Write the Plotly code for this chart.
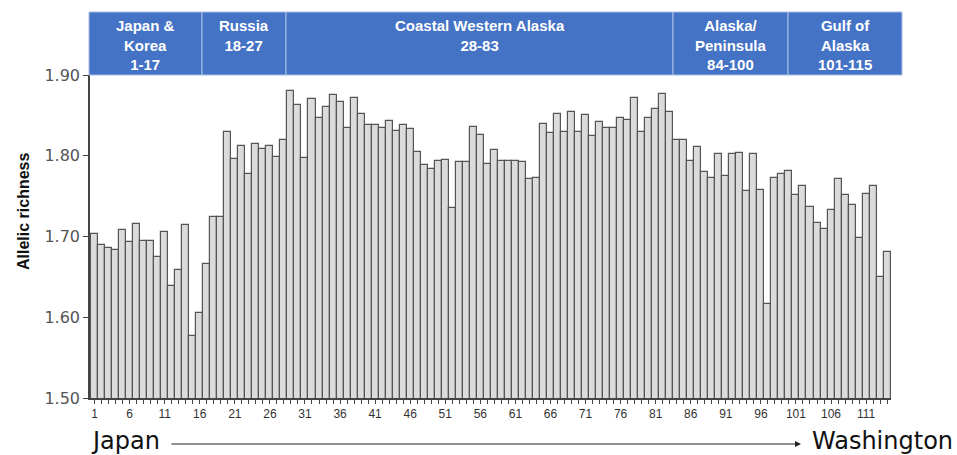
import plotly.graph_objects as go

# ---- data ----
populations = list(range(1, 115))
allelic_richness = [
    1.703, 1.689, 1.686, 1.683, 1.708, 1.693, 1.716, 1.694, 1.695, 1.675,
    1.705, 1.639, 1.658, 1.714, 1.577, 1.605, 1.666, 1.724, 1.724, 1.829,
    1.796, 1.812, 1.777, 1.815, 1.808, 1.812, 1.798, 1.820, 1.880, 1.863,
    1.797, 1.870, 1.847, 1.860, 1.875, 1.866, 1.834, 1.871, 1.852, 1.838,
    1.838, 1.834, 1.843, 1.831, 1.838, 1.833, 1.805, 1.789, 1.783, 1.794,
    1.795, 1.735, 1.792, 1.792, 1.835, 1.826, 1.790, 1.807, 1.794, 1.793,
    1.793, 1.792, 1.771, 1.772, 1.839, 1.828, 1.852, 1.830, 1.854, 1.830,
    1.851, 1.824, 1.842, 1.834, 1.834, 1.847, 1.844, 1.871, 1.830, 1.847,
    1.858, 1.877, 1.854, 1.820, 1.819, 1.794, 1.811, 1.780, 1.772, 1.802,
    1.775, 1.802, 1.803, 1.756, 1.802, 1.757, 1.616, 1.772, 1.777, 1.781,
    1.751, 1.762, 1.737, 1.717, 1.709, 1.733, 1.771, 1.751, 1.739, 1.698,
    1.753, 1.763, 1.650, 1.681,
]
tick_labels = [str(p) if (p - 1) % 5 == 0 else "" for p in populations]
region_labels = [
    "Japan &<br>Korea<br>1-17",
    "Russia<br>18-27",
    "Coastal Western Alaska<br>28-83",
    "Alaska/<br>Peninsula<br>84-100",
    "Gulf of<br>Alaska<br>101-115",
]
y_title = "Allelic richness"
left_label = "Japan"
right_label = "Washington"

# ---- layout geometry (pixels) ----
W, H = 957, 455
L, R, T, B = 90, 66, 75, 57
PW = W - L - R
PH = H - T - B


def px(xp):
    return (xp - L) / PW


def py(yp):
    return (H - B - yp) / PH


region_edges = [89, 202, 286, 673, 788, 902]
header_top, header_bot = 12, 75

fig = go.Figure()
fig.add_trace(go.Bar(
    x=populations,
    y=allelic_richness,
    marker=dict(color="#dbdbdb", line=dict(color="#555555", width=1.2)),
    width=1,
    hoverinfo="x+y",
))

shapes = []
annotations = []
for i, lab in enumerate(region_labels):
    x0, x1 = region_edges[i], region_edges[i + 1]
    shapes.append(dict(
        type="rect", xref="paper", yref="paper",
        x0=px(x0), x1=px(x1), y0=py(header_bot), y1=py(header_top),
        fillcolor="#4472C4", line=dict(color="#a8bde6", width=1),
        layer="above",
    ))
    annotations.append(dict(
        text=lab, xref="paper", yref="paper",
        x=px((x0 + x1) / 2), y=py(header_top + 3),
        xanchor="center", yanchor="top", showarrow=False,
        font=dict(family="Liberation Sans", size=15, color="white", weight="bold"),
        align="center",
    ))

annotations.append(dict(
    text=y_title, xref="paper", yref="paper",
    x=px(23), y=py(212), xanchor="center", yanchor="middle", showarrow=False,
    textangle=-90,
    font=dict(family="Liberation Sans", size=16, color="#111111", weight="bold"),
))
annotations.append(dict(
    text=left_label, xref="paper", yref="paper",
    x=px(89), y=py(441), xanchor="left", yanchor="middle", showarrow=False,
    font=dict(family="DejaVu Sans", size=24, color="#111111"),
))
annotations.append(dict(
    text=right_label, xref="paper", yref="paper",
    x=px(955), y=py(441), xanchor="right", yanchor="middle", showarrow=False,
    font=dict(family="DejaVu Sans", size=24, color="#111111"),
))
annotations.append(dict(
    text="", xref="paper", yref="paper",
    x=px(801), y=py(444), ax=-631, ay=0, axref="pixel", ayref="pixel",
    showarrow=True, arrowhead=2, arrowsize=1.2, arrowwidth=1, arrowcolor="#222222",
))

fig.update_layout(
    width=W, height=H,
    margin=dict(l=L, r=R, t=T, b=B),
    paper_bgcolor="white", plot_bgcolor="white",
    bargap=0, showlegend=False,
    shapes=shapes, annotations=annotations,
    font=dict(family="Liberation Sans", color="#333333"),
    xaxis=dict(
        range=[0.35, 114.55],
        tickmode="array", tickvals=populations, ticktext=tick_labels,
        ticks="outside", ticklen=4, tickwidth=1, tickcolor="#444444",
        showline=True, linecolor="#444444", linewidth=1.5,
        showgrid=False, zeroline=False,
        tickfont=dict(size=12, color="#333333"),
        tickangle=0,
    ),
    yaxis=dict(
        range=[1.5, 1.9], dtick=0.1, tickformat=".2f",
        ticks="outside", ticklen=5, tickwidth=1, tickcolor="#444444",
        showline=True, linecolor="#444444", linewidth=1.5,
        showgrid=False, zeroline=False,
        tickfont=dict(family="DejaVu Sans", size=16, color="#555555"),
    ),
)

fig.write_html("out.html")
